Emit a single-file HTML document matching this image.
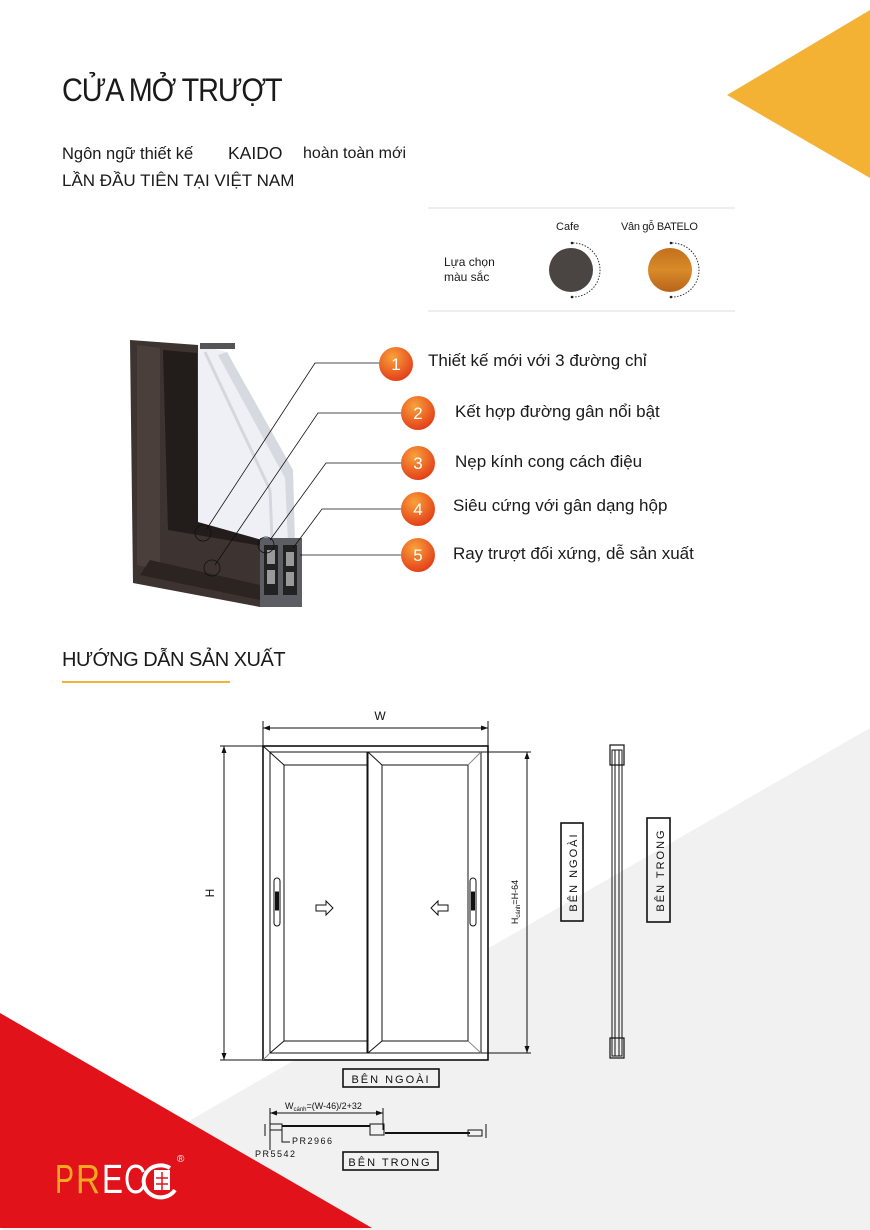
<!DOCTYPE html>
<html><head><meta charset="utf-8">
<style>
html,body{margin:0;padding:0;background:#fff;}
body{width:870px;height:1230px;position:relative;overflow:hidden;font-family:"Liberation Sans","DejaVu Sans",sans-serif;}
.t{position:absolute;white-space:nowrap;color:#1a1a1a;}
</style></head><body>
<svg width="870" height="1230" style="position:absolute;left:0;top:0" xmlns="http://www.w3.org/2000/svg">
<defs>
<radialGradient id="og" cx="40%" cy="30%" r="70%"><stop offset="0" stop-color="#f8a23a"/><stop offset="1" stop-color="#e4401a"/></radialGradient>
<linearGradient id="wood" x1="0" y1="0" x2="0" y2="1"><stop offset="0" stop-color="#c2701c"/><stop offset="0.5" stop-color="#d98a2a"/><stop offset="1" stop-color="#b8641a"/></linearGradient>
</defs>
<polygon points="870,728 870,1230 0,1230" fill="#f1f1f1"/>
<polygon points="0,1013 372,1228 0,1228" fill="#e11219"/>
<polygon points="870,10 727,95 870,178" fill="#f3b233"/>
<rect x="62" y="681" width="168" height="2" fill="#f3b233"/>
<line x1="428" y1="208" x2="735" y2="208" stroke="#ddd" stroke-width="1"/>
<line x1="428" y1="311" x2="735" y2="311" stroke="#ddd" stroke-width="1"/>
<circle cx="571" cy="270" r="22" fill="#4a4542"/>
<path d="M573 243 A27 27 0 0 1 573 297" fill="none" stroke="#333" stroke-width="1" stroke-dasharray="1.5,1.5"/>
<circle cx="572" cy="243" r="1.3" fill="#222"/><circle cx="572" cy="297" r="1.3" fill="#222"/>
<circle cx="670" cy="270" r="22" fill="url(#wood)"/>
<path d="M672 243 A27 27 0 0 1 672 297" fill="none" stroke="#333" stroke-width="1" stroke-dasharray="1.5,1.5"/>
<circle cx="671" cy="243" r="1.3" fill="#222"/><circle cx="671" cy="297" r="1.3" fill="#222"/>
<polygon points="130,340 198,345 198,522 260,537 300,540 302,607 260,607 133,583" fill="#3d3330"/>
<polygon points="137,345 160,348 160,570 137,565" fill="#4a3f3b"/>
<polygon points="163,350 197,353 198,522 260,537 262,546 168,530" fill="#221c1a"/>
<polygon points="150,560 260,585 260,600 140,575" fill="#2b2421"/>
<polygon points="198,345 227,352 293,470 295,543 262,540 198,522" fill="#eef0f5"/>
<polygon points="227,352 293,470 295,543 288,543 285,478 218,355" fill="#d7d9e0"/>
<line x1="205" y1="352" x2="270" y2="490" stroke="#d5d7de" stroke-width="3"/>
<line x1="270" y1="490" x2="272" y2="540" stroke="#d5d7de" stroke-width="3"/>
<rect x="260" y="538" width="42" height="69" fill="#5c5e63"/>
<rect x="264" y="545" width="14" height="50" fill="#222"/>
<rect x="283" y="545" width="14" height="50" fill="#222"/>
<rect x="267" y="550" width="8" height="14" fill="#999"/>
<rect x="286" y="552" width="8" height="14" fill="#999"/>
<rect x="267" y="570" width="8" height="14" fill="#999"/>
<rect x="286" y="572" width="8" height="14" fill="#999"/>
<rect x="200" y="343" width="35" height="6" fill="#555"/>
<g stroke="#111" stroke-width="0.8" fill="none">
<polyline points="380,363 315,363 206,530"/><circle cx="203" cy="533" r="8"/>
<polyline points="402,413 318,413 215,565"/><circle cx="212" cy="568" r="8"/>
<polyline points="402,463 326,463 270,540"/><circle cx="266" cy="545" r="8"/>
<polyline points="402,509 322,509 293,548"/>
<polyline points="402,555 300,555"/>
</g>
<g font-family="Liberation Sans,sans-serif" font-size="17" fill="#fff" text-anchor="middle">
<circle cx="396" cy="364" r="17" fill="url(#og)"/><text x="396" y="370">1</text>
<circle cx="418" cy="413" r="17" fill="url(#og)"/><text x="418" y="419">2</text>
<circle cx="418" cy="463" r="17" fill="url(#og)"/><text x="418" y="469">3</text>
<circle cx="418" cy="509" r="17" fill="url(#og)"/><text x="418" y="515">4</text>
<circle cx="418" cy="555" r="17" fill="url(#og)"/><text x="418" y="561">5</text>
</g>
<g stroke="#111" fill="none" stroke-width="1">
<rect x="263" y="746" width="225" height="314" stroke-width="1.6" fill="#fff"/>
<rect x="270" y="752" width="211" height="301"/>
<rect x="270" y="752" width="97" height="301"/>
<rect x="284" y="765" width="83" height="276"/>
<rect x="368" y="752" width="113" height="301"/>
<rect x="382" y="765" width="86" height="276"/>
<line x1="263" y1="746" x2="284" y2="765"/>
<line x1="270" y1="1053" x2="284" y2="1041"/>
<line x1="368" y1="752" x2="382" y2="765"/>
<line x1="368" y1="1053" x2="382" y2="1041"/>
<line x1="481" y1="752" x2="468" y2="765" stroke="#888"/>
<line x1="481" y1="1053" x2="468" y2="1041" stroke="#888"/>
<line x1="263" y1="1060" x2="270" y2="1053" stroke="#888"/>
<line x1="263" y1="728" x2="488" y2="728"/>
<line x1="263" y1="721" x2="263" y2="746"/><line x1="488" y1="721" x2="488" y2="746"/>
<line x1="224" y1="746" x2="224" y2="1060"/>
<line x1="220" y1="746" x2="263" y2="746"/><line x1="220" y1="1060" x2="263" y2="1060"/>
<line x1="527" y1="752" x2="527" y2="1053"/>
<line x1="481" y1="752" x2="531" y2="752"/><line x1="481" y1="1053" x2="531" y2="1053"/>
<rect x="274" y="878" width="6" height="48" rx="3"/><rect x="275.5" y="892" width="3" height="18" fill="#111"/>
<rect x="470" y="878" width="6" height="48" rx="3"/><rect x="471.5" y="892" width="3" height="18" fill="#111"/>
<polygon points="316,905 326,905 326,901 333,908 326,915 326,911 316,911"/>
<polygon points="448,905 438,905 438,901 431,908 438,915 438,911 448,911"/>
<rect x="612" y="750" width="10" height="306"/>
<line x1="615" y1="750" x2="615" y2="1056"/><line x1="619" y1="750" x2="619" y2="1056"/>
<rect x="610" y="745" width="14" height="20" stroke-width="1.2"/>
<rect x="610" y="1038" width="14" height="20" stroke-width="1.2"/>
<rect x="561" y="823" width="22" height="98" stroke-width="1.6"/>
<rect x="647" y="818" width="23" height="104" stroke-width="1.6"/>
<rect x="343" y="1069" width="96" height="18" stroke-width="1.6"/>
<rect x="343" y="1152" width="95" height="18" stroke-width="1.6"/>
<line x1="270" y1="1113" x2="383" y2="1113"/>
<line x1="270" y1="1108" x2="270" y2="1126"/><line x1="383" y1="1108" x2="383" y2="1130"/>
<line x1="282" y1="1126" x2="370" y2="1126" stroke-width="2"/>
<line x1="385" y1="1133" x2="470" y2="1133" stroke-width="2"/>
<rect x="270" y="1124" width="12" height="6"/>
<rect x="370" y="1124" width="14" height="11"/>
<rect x="468" y="1130" width="14" height="6"/>
<line x1="265" y1="1124" x2="265" y2="1136"/><line x1="486" y1="1124" x2="486" y2="1138"/>
<polyline points="282,1130 282,1142 290,1142"/>
<line x1="270" y1="1130" x2="270" y2="1150"/>
</g>
<g fill="#111">
<polygon points="263,728 270,725.5 270,730.5"/><polygon points="488,728 481,725.5 481,730.5"/>
<polygon points="224,746 221.5,753 226.5,753"/><polygon points="224,1060 221.5,1053 226.5,1053"/>
<polygon points="527,752 524.5,759 529.5,759"/><polygon points="527,1053 524.5,1046 529.5,1046"/>
<polygon points="270,1113 277,1110.5 277,1115.5"/><polygon points="383,1113 376,1110.5 376,1115.5"/>
</g>
<g font-family="Liberation Sans,sans-serif" fill="#111">
<text x="380" y="720" font-size="12" text-anchor="middle">W</text>
<text transform="translate(214,893) rotate(-90)" font-size="12" text-anchor="middle">H</text>
<text transform="translate(518,902) rotate(-90)" font-size="9" text-anchor="middle">H<tspan font-size="6" dy="2">cánh</tspan><tspan dy="-2">=H-64</tspan></text>
<text transform="translate(577,872) rotate(-90)" font-size="11" letter-spacing="2" text-anchor="middle">BÊN NGOÀI</text>
<text transform="translate(664,870) rotate(-90)" font-size="11" letter-spacing="2" text-anchor="middle">BÊN TRONG</text>
<text x="391" y="1083" font-size="11" letter-spacing="2" text-anchor="middle">BÊN NGOÀI</text>
<text x="390" y="1166" font-size="11" letter-spacing="2" text-anchor="middle">BÊN TRONG</text>
<text x="285" y="1109" font-size="9">W<tspan font-size="6" dy="2">cánh</tspan><tspan dy="-2">=(W-46)/2+32</tspan></text>
<text x="292" y="1144" font-size="9" letter-spacing="1.5">PR2966</text>
<text x="255" y="1157" font-size="9" letter-spacing="1.5">PR5542</text>
</g>
<g font-family="Liberation Sans,sans-serif" font-size="41">
<text x="55" y="1193" fill="#f7a823" textLength="19" lengthAdjust="spacingAndGlyphs">P</text>
<text x="76" y="1193" fill="#f7a823" textLength="24" lengthAdjust="spacingAndGlyphs">R</text>
<text x="102" y="1193" fill="#fff" textLength="21" lengthAdjust="spacingAndGlyphs">E</text>
<text x="124" y="1193" fill="#fff" textLength="22" lengthAdjust="spacingAndGlyphs">C</text>
</g>
<path d="M175 1190 A17 16 0 1 1 170 1168" fill="none" stroke="#fff" stroke-width="4"/>
<rect x="154" y="1170" width="16" height="20" fill="#fff"/>
<g stroke="#e11219" stroke-width="1.5"><line x1="162" y1="1172" x2="162" y2="1190"/><line x1="156" y1="1178" x2="168" y2="1178"/><line x1="156" y1="1184" x2="168" y2="1184"/></g>
<text x="177" y="1162" fill="#fff" font-family="Liberation Sans,sans-serif" font-size="10">®</text>
</svg>
<div class="t" style="left:62px;top:72px;font-size:32px;letter-spacing:-1.2px;transform:scaleX(0.9);transform-origin:0 0;">CỬA MỞ TRƯỢT</div>
<div class="t" style="left:62px;top:145px;font-size:16.5px;">Ngôn ngữ thiết kế</div>
<div class="t" style="left:228px;top:143px;font-size:17.5px;">KAIDO</div>
<div class="t" style="left:303px;top:145px;font-size:16px;">hoàn toàn mới</div>
<div class="t" style="left:62px;top:171px;font-size:17px;">LẦN ĐẦU TIÊN TẠI VIỆT NAM</div>
<div class="t" style="left:556px;top:221px;font-size:11px;">Cafe</div>
<div class="t" style="left:621px;top:221px;font-size:11px;letter-spacing:-0.3px;">Vân gỗ BATELO</div>
<div class="t" style="left:444px;top:255px;font-size:12px;line-height:15px;">Lựa chọn<br>màu sắc</div>
<div class="t" style="left:428px;top:351px;font-size:17px;">Thiết kế mới với 3 đường chỉ</div>
<div class="t" style="left:455px;top:402px;font-size:17px;">Kết hợp đường gân nổi bật</div>
<div class="t" style="left:455px;top:452px;font-size:17px;">Nẹp kính cong cách điệu</div>
<div class="t" style="left:453px;top:496px;font-size:17px;">Siêu cứng với gân dạng hộp</div>
<div class="t" style="left:453px;top:544px;font-size:17px;">Ray trượt đối xứng, dễ sản xuất</div>
<div class="t" style="left:62px;top:649px;font-size:20px;letter-spacing:-0.5px;">HƯỚNG DẪN SẢN XUẤT</div>
</body></html>
